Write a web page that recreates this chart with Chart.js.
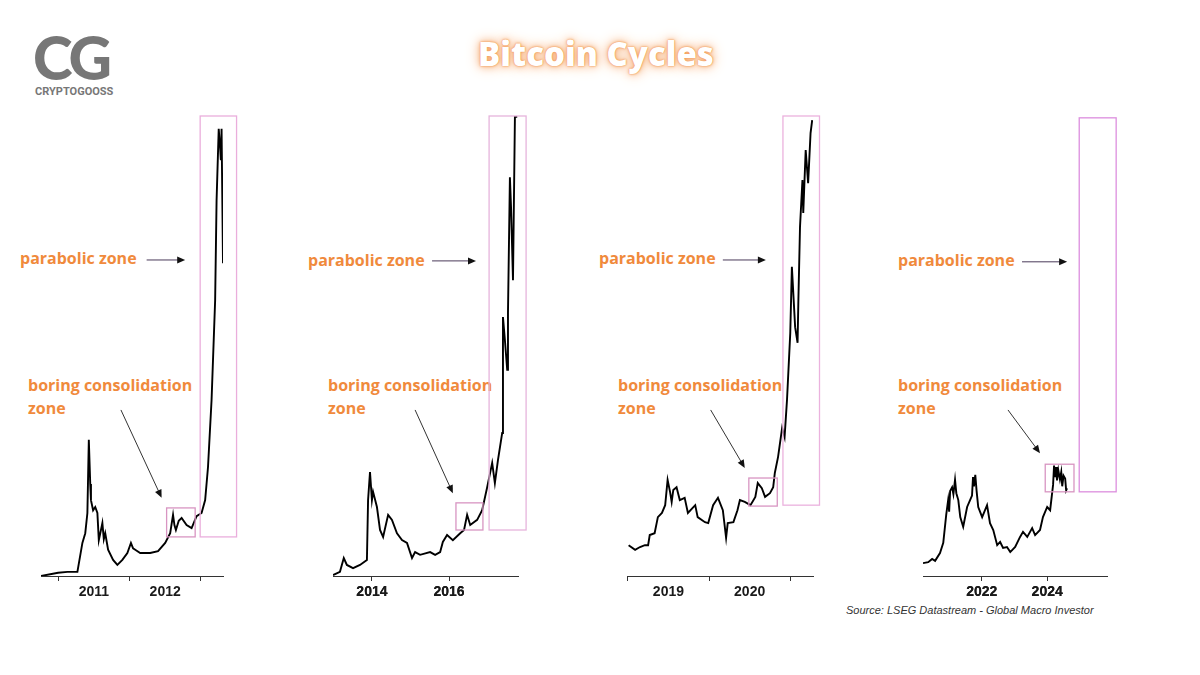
<!DOCTYPE html>
<html>
<head>
<meta charset="utf-8">
<script src="https://cdn.jsdelivr.net/npm/chart.js@4.4.1/dist/chart.umd.min.js"></script>
<style>
  body { margin: 0; background: #fff; }
  #page { position: relative; width: 1200px; height: 675px; overflow: hidden; background: #fff; font-family: "Open Sans", sans-serif; }
  canvas { position: absolute; top: 100px; }
  .note { position: absolute; color: #f08a3c; font-weight: 700; font-size: 16px; line-height: 23px; white-space: nowrap; }
  #title { position: absolute; left: 0; width: 1192px; top: 31px; text-align: center; font-size: 33px; font-weight: 800; color: #fff;
    text-shadow: 0 0 1px #f08a3c, 0 0 3px #f39a55, 0 0 8px #f6b07c, 0 0 16px #f9cfae; }
  #logo { position: absolute; left: 33px; top: 22px; font-family: Lato, sans-serif; font-weight: 900; font-size: 60px; color: #777; letter-spacing: -3px; line-height: 70px; }
  #brand { position: absolute; left: 35px; top: 85px; font-family: Roboto, sans-serif; font-weight: 700; font-size: 11px; color: #777; }
  #source { position: absolute; left: 846px; top: 604px; font-family: "Liberation Sans", Arial, sans-serif; font-style: italic; font-size: 11px; color: #333; }
</style>
</head>
<body>
<div id="page">
  <div id="logo">CG</div>
  <div id="brand">CRYPTOGOOSS</div>
  <div id="title">Bitcoin Cycles</div>
  <div class="note" style="left:20px;top:247px">parabolic zone</div>
  <div class="note" style="left:28px;top:374px">boring consolidation<br>zone</div>
  <div class="note" style="left:308px;top:249px">parabolic zone</div>
  <div class="note" style="left:328px;top:374px">boring consolidation<br>zone</div>
  <div class="note" style="left:599px;top:247px">parabolic zone</div>
  <div class="note" style="left:618px;top:374px">boring consolidation<br>zone</div>
  <div class="note" style="left:898px;top:249px">parabolic zone</div>
  <div class="note" style="left:898px;top:374px">boring consolidation<br>zone</div>
  <div id="source">Source: LSEG Datastream - Global Macro Investor</div>
</div>
<script>
// price level, indexed 0 (axis) .. 100 (top of panel)
const cycle1Years = [2010.76, 2011.00, 2011.13, 2011.27, 2011.34, 2011.38, 2011.41, 2011.43, 2011.45, 2011.46, 2011.49, 2011.52, 2011.55, 2011.57, 2011.60, 2011.62, 2011.64, 2011.66, 2011.70, 2011.77, 2011.83, 2011.90, 2011.97, 2012.02, 2012.05, 2012.08, 2012.15, 2012.29, 2012.40, 2012.50, 2012.57, 2012.61, 2012.63, 2012.65, 2012.69, 2012.73, 2012.80, 2012.87, 2012.94, 2013.01, 2013.06, 2013.10, 2013.15, 2013.20, 2013.22, 2013.25, 2013.27, 2013.28, 2013.29, 2013.31];
const cycle1Price = [0, 0.7, 0.9, 0.9, 7.2, 9.3, 13.7, 29.6, 20.0, 16.5, 14.3, 15.0, 13.7, 7.8, 10.0, 11.5, 8.0, 9.3, 5.7, 3.5, 2.4, 3.5, 5.0, 7.2, 6.0, 5.7, 5.0, 5.0, 5.4, 7.2, 9.3, 13.3, 11.0, 10.0, 12.0, 12.6, 11.1, 10.4, 13.0, 13.7, 16.5, 23.7, 38.3, 60.0, 81.7, 97.2, 93.0, 90.4, 97.2, 68.0];

const cycle2Years = [2012.99, 2013.17, 2013.27, 2013.35, 2013.51, 2013.69, 2013.87, 2013.90, 2013.95, 2014.00, 2014.03, 2014.13, 2014.21, 2014.29, 2014.42, 2014.52, 2014.65, 2014.78, 2014.91, 2015.04, 2015.12, 2015.25, 2015.51, 2015.64, 2015.77, 2015.84, 2015.95, 2016.10, 2016.29, 2016.39, 2016.47, 2016.55, 2016.73, 2016.86, 2016.99, 2017.12, 2017.19, 2017.27, 2017.38, 2017.40, 2017.45, 2017.51, 2017.53, 2017.58, 2017.61, 2017.66, 2017.71, 2017.77];
const cycle2Price = [0.2, 0.9, 3.9, 2.4, 1.7, 2.4, 3.5, 16.5, 22.6, 16.5, 18.3, 15.0, 10.0, 8.5, 13.3, 12.2, 9.3, 7.8, 7.2, 3.9, 5.2, 4.6, 5.2, 4.6, 5.2, 7.4, 8.9, 7.8, 9.3, 10.0, 13.3, 11.1, 12.2, 14.3, 19.3, 24.6, 20.2, 25.2, 31.1, 56.3, 51.3, 44.8, 57.2, 86.7, 80.0, 64.3, 99.8, 99.8];

const cycle3Years = [2019.01, 2019.09, 2019.15, 2019.21, 2019.25, 2019.27, 2019.33, 2019.37, 2019.42, 2019.46, 2019.49, 2019.52, 2019.54, 2019.56, 2019.60, 2019.64, 2019.70, 2019.74, 2019.83, 2019.86, 2019.95, 2019.99, 2020.05, 2020.11, 2020.17, 2020.21, 2020.23, 2020.30, 2020.35, 2020.38, 2020.44, 2020.51, 2020.57, 2020.60, 2020.65, 2020.69, 2020.75, 2020.79, 2020.81, 2020.85, 2020.90, 2020.93, 2020.96, 2021.00, 2021.02, 2021.06, 2021.09, 2021.10, 2021.12, 2021.15, 2021.16, 2021.19, 2021.22, 2021.25, 2021.27];
const cycle3Price = [6.7, 5.7, 6.3, 6.7, 6.7, 8.9, 9.3, 12.8, 13.7, 15.4, 20.9, 18.3, 16.1, 18.7, 19.3, 16.5, 17.0, 13.7, 15.4, 12.8, 11.7, 11.5, 15.4, 17.0, 14.3, 8.3, 11.5, 11.7, 14.3, 16.5, 16.1, 15.4, 17.2, 20.2, 19.1, 17.2, 18.0, 19.3, 22.4, 25.9, 32.2, 30.2, 38.3, 52.8, 67.2, 54.1, 50.7, 60.0, 75.9, 86.1, 78.9, 92.6, 85.4, 96.3, 99.1];

const cycle4Years = [2020.20, 2020.36, 2020.48, 2020.57, 2020.72, 2020.82, 2020.91, 2020.97, 2021.00, 2021.03, 2021.09, 2021.13, 2021.18, 2021.22, 2021.28, 2021.34, 2021.43, 2021.55, 2021.64, 2021.70, 2021.73, 2021.76, 2021.80, 2021.84, 2021.89, 2022.01, 2022.16, 2022.25, 2022.35, 2022.47, 2022.56, 2022.65, 2022.77, 2022.87, 2023.02, 2023.17, 2023.26, 2023.39, 2023.54, 2023.63, 2023.78, 2023.87, 2024.00, 2024.09, 2024.18, 2024.21, 2024.24, 2024.27, 2024.30, 2024.34, 2024.39, 2024.43, 2024.46, 2024.50, 2024.55, 2024.58, 2024.61];
const cycle4Price = [2.8, 3.0, 3.7, 3.3, 5.0, 7.2, 13.3, 16.5, 14.0, 18.5, 19.3, 17.8, 20.9, 18.0, 16.5, 12.8, 10.7, 15.0, 16.5, 17.5, 21.5, 19.5, 22.0, 18.5, 15.0, 12.8, 15.4, 11.5, 10.0, 6.7, 7.4, 6.1, 6.3, 5.2, 6.3, 8.5, 9.6, 8.5, 10.4, 8.9, 10.0, 12.8, 15.0, 14.3, 19.8, 24.0, 21.5, 23.7, 20.8, 23.0, 21.0, 22.6, 19.5, 21.8, 21.2, 18.6, 19.1];

// axis tick marks and year labels
const cycle1TickYears = [2011, 2012, 2013];
const cycle1LabelYears = [2011.5, 2012.5];
const cycle1Labels = ['2011', '2012'];
const cycle2TickYears = [2014, 2016];
const cycle2LabelYears = [2014, 2016];
const cycle2Labels = ['2014', '2016'];
const cycle3TickYears = [2019, 2020, 2021];
const cycle3LabelYears = [2019.5, 2020.5];
const cycle3Labels = ['2019', '2020'];
const cycle4TickYears = [2022, 2024];
const cycle4LabelYears = [2022, 2024];
const cycle4Labels = ['2022', '2024'];

// zones: [fromYear, toYear, low, high]
const cycle1Zones = [[2012.52, 2012.92, 8.5, 14.8], [2012.99, 2013.50, 8.5, 100]];
const cycle2Zones = [[2016.18, 2016.88, 10.0, 15.9], [2017.04, 2018.00, 10.0, 100]];
const cycle3Zones = [[2020.49, 2020.84, 15.2, 21.3], [2020.91, 2021.36, 15.4, 100]];
const cycle4Zones = [[2023.94, 2024.82, 18.3, 24.3], [2024.98, 2026.11, 18.3, 99.6]];

// arrows: [fromYear, fromLevel, toYear, toLevel]
const cycle1Arrows = [[2012.24, 68.7, 2012.78, 68.7], [2011.88, 36.1, 2012.45, 17.0]];
const cycle2Arrows = [[2015.56, 68.5, 2016.70, 68.5], [2015.12, 36.1, 2016.10, 18.0]];
const cycle3Arrows = [[2020.17, 68.7, 2020.70, 68.7], [2020.02, 36.1, 2020.44, 23.5]];
const cycle4Arrows = [[2023.23, 68.3, 2024.61, 68.3], [2022.80, 36.1, 2023.78, 26.7]];

const zonesPlugin = {
  id: 'zones',
  afterDraw(chart, args, opts) {
    const ctx = chart.ctx;
    const xs = chart.scales.x, ys = chart.scales.y;
    ctx.save();
    opts.zones.forEach((z, i) => {
      const x1 = xs.getPixelForValue(z[0]), x2 = xs.getPixelForValue(z[1]);
      const y1 = ys.getPixelForValue(z[3]), y2 = ys.getPixelForValue(z[2]);
      ctx.strokeStyle = i === 0 ? '#d895c2' : opts.bigColor;
      ctx.lineWidth = 1.3;
      ctx.strokeRect(x1, y1, x2 - x1, y2 - y1);
    });
    opts.arrows.forEach((a, i) => {
      const x1 = xs.getPixelForValue(a[0]), y1 = ys.getPixelForValue(a[1]);
      const x2 = xs.getPixelForValue(a[2]), y2 = ys.getPixelForValue(a[3]);
      const ang = Math.atan2(y2 - y1, x2 - x1);
      ctx.strokeStyle = i === 0 ? '#4a3a5a' : '#333';
      ctx.fillStyle = '#111';
      ctx.lineWidth = 1;
      ctx.beginPath();
      ctx.moveTo(x1, y1);
      ctx.lineTo(x2 - 6 * Math.cos(ang), y2 - 6 * Math.sin(ang));
      ctx.stroke();
      ctx.beginPath();
      ctx.moveTo(x2, y2);
      ctx.lineTo(x2 - 8 * Math.cos(ang) + 3.5 * Math.sin(ang), y2 - 8 * Math.sin(ang) - 3.5 * Math.cos(ang));
      ctx.lineTo(x2 - 8 * Math.cos(ang) - 3.5 * Math.sin(ang), y2 - 8 * Math.sin(ang) + 3.5 * Math.cos(ang));
      ctx.closePath();
      ctx.fill();
    });
    ctx.restore();
  }
};

const near = (a, b) => Math.abs(a - b) < 1e-6;

function makePanel(p) {
  const canvas = document.createElement('canvas');
  canvas.width = p.width;
  canvas.height = 506;
  canvas.style.left = p.left + 'px';
  canvas.style.width = p.width + 'px';
  canvas.style.height = '506px';
  document.getElementById('page').appendChild(canvas);
  const allTicks = [...p.tickYears, ...p.labelYears].sort((a, b) => a - b);
  new Chart(canvas.getContext('2d'), {
    type: 'line',
    data: {
      datasets: [{
        data: p.years.map((x, i) => ({ x: x, y: p.price[i] })),
        borderColor: '#000',
        borderWidth: 1.9,
        pointRadius: 0,
        tension: 0,
        fill: false
      }]
    },
    options: {
      responsive: false,
      animation: false,
      layout: { padding: { top: 16, bottom: 0, left: p.padLeft, right: p.padRight } },
      plugins: {
        legend: { display: false },
        tooltip: { enabled: false },
        zones: { zones: p.zones, arrows: p.arrows, bigColor: p.bigColor }
      },
      scales: {
        x: {
          type: 'linear',
          min: p.min,
          max: p.max,
          afterBuildTicks: s => { s.ticks = allTicks.map(v => ({ value: v })); },
          afterFit: s => { s.height = 30; },
          border: { display: true, color: '#333', width: 1 },
          grid: {
            drawOnChartArea: false,
            drawTicks: true,
            tickLength: 5,
            color: c => (c.tick && p.tickYears.some(t => near(t, c.tick.value))) ? '#333' : 'rgba(0,0,0,0)'
          },
          ticks: {
            autoSkip: false,
            maxRotation: 0,
            padding: 3,
            color: '#1a1a1a',
            font: { family: '"Liberation Sans", Arial, sans-serif', size: 14, weight: 'bold' },
            callback: v => {
              const k = p.labelYears.findIndex(l => near(l, v));
              return k >= 0 ? p.labels[k] : '';
            }
          }
        },
        y: { display: false, min: 0, max: 100 }
      }
    },
    plugins: [zonesPlugin]
  });
}

makePanel({ left: 0, width: 260, padLeft: 41, padRight: 37, min: 2010.76, max: 2013.31,
  years: cycle1Years, price: cycle1Price, tickYears: cycle1TickYears, labelYears: cycle1LabelYears, labels: cycle1Labels,
  zones: cycle1Zones, arrows: cycle1Arrows, bigColor: '#eaaedc' });
makePanel({ left: 300, width: 250, padLeft: 33, padRight: 32, min: 2012.99, max: 2017.79,
  years: cycle2Years, price: cycle2Price, tickYears: cycle2TickYears, labelYears: cycle2LabelYears, labels: cycle2Labels,
  zones: cycle2Zones, arrows: cycle2Arrows, bigColor: '#e6b4dc' });
makePanel({ left: 580, width: 260, padLeft: 47, padRight: 27, min: 2018.99, max: 2021.28,
  years: cycle3Years, price: cycle3Price, tickYears: cycle3TickYears, labelYears: cycle3LabelYears, labels: cycle3Labels,
  zones: cycle3Zones, arrows: cycle3Arrows, bigColor: '#ebb2de' });
makePanel({ left: 880, width: 260, padLeft: 43, padRight: 33, min: 2020.20, max: 2025.83,
  years: cycle4Years, price: cycle4Price, tickYears: cycle4TickYears, labelYears: cycle4LabelYears, labels: cycle4Labels,
  zones: cycle4Zones, arrows: cycle4Arrows, bigColor: '#dc8ede' });
</script>
</body>
</html>
